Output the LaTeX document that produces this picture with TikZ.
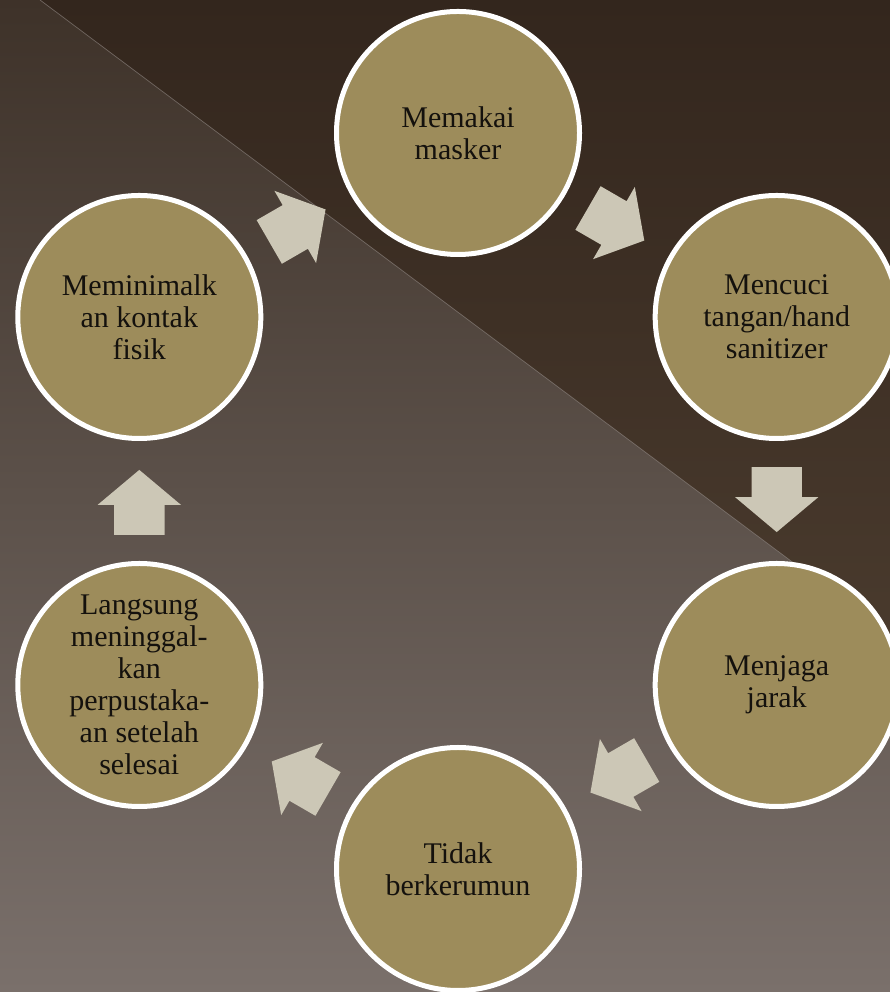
\documentclass[tikz,border=0pt]{standalone}
\usepackage{fontspec}
\setmainfont{Liberation Serif}
\usetikzlibrary{shapes.arrows,calc}

\definecolor{latatas}{HTML}{3E3229}
\definecolor{lattengah}{HTML}{4B3E33}
\definecolor{latbawah}{HTML}{7A706B}
\definecolor{gelapatas}{HTML}{33261D}
\definecolor{gelapbawah}{HTML}{493A2D}
\definecolor{zaitun}{HTML}{9D8C5B}
\definecolor{krem}{HTML}{CCC7B6}
\definecolor{teks}{HTML}{14110D}

\tikzset{
  tahap/.style={circle, draw=white, line width=5pt, fill=zaitun, minimum size=243pt,
    inner sep=0pt, align=center, text=teks, font=\fontsize{30}{32}\selectfont},
  panah/.style={single arrow, fill=krem, draw=none, inner sep=0pt, inner ysep=25pt,
    minimum height=65pt, single arrow head extend=16.5pt, single arrow tip angle=100}
}

\begin{document}
\begin{tikzpicture}[x=1pt,y=1pt]
        \useasboundingbox (0,0) rectangle (890,992);
        \clip (0,0) rectangle (890,992);
        % latar
        \shade[top color=latatas, middle color=lattengah, bottom color=latbawah] (0,0) rectangle (890,992);
        \shade[top color=gelapatas, bottom color=gelapbawah] (40,992) -- (890,992) -- (890,357) -- cycle;
        \draw[color=latbawah!80!white, line width=0.7pt, opacity=0.6] (40,992) -- (890,357);

        \coordinate (pusat) at (458,491);
        \node[tahap] (masker) at ([shift={(90:368)}]pusat) {Memakai\\masker};
        \node[tahap] (cuci) at ([shift={(30:368)}]pusat) {Mencuci\\tangan/hand\\sanitizer};
        \node[tahap] (jarak) at ([shift={(-30:368)}]pusat) {Menjaga\\jarak};
        \node[tahap] (kerumun) at ([shift={(-90:368)}]pusat) {Tidak\\berkerumun};
        \node[tahap] (pulang) at ([shift={(-150:368)}]pusat) {Langsung\\meninggal-\\kan\\perpustaka-\\an setelah\\selesai};
        \node[tahap] (kontak) at ([shift={(150:368)}]pusat) {Meminimalk\\an kontak\\fisik};

        % panah antar tahap
        \node[panah, rotate=-30, xshift=-12pt] (p1) at ($(masker)!0.5!(cuci)$) {};
        \node[panah, rotate=-90, xshift=-12pt] (p2) at ($(cuci)!0.5!(jarak)$) {};
        \node[panah, rotate=-150, xshift=-12pt] (p3) at ($(jarak)!0.5!(kerumun)$) {};
        \node[panah, rotate=150, xshift=-12pt] (p4) at ($(kerumun)!0.5!(pulang)$) {};
        \node[panah, rotate=90, xshift=-12pt] (p5) at ($(pulang)!0.5!(kontak)$) {};
        \node[panah, rotate=30, xshift=-12pt] (p6) at ($(kontak)!0.5!(masker)$) {};
      \end{tikzpicture}
\end{document}
